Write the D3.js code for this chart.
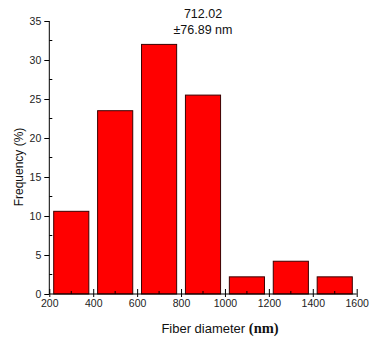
<!DOCTYPE html>
<html><head><meta charset="utf-8">
<script src="https://cdn.jsdelivr.net/npm/d3@7"></script>
<style>body{margin:0;background:#fff;} svg{display:block;}</style>
</head><body>
<script>
const binStart = [200, 400, 600, 800, 1000, 1200, 1400];
const frequency = [10.6, 23.5, 32.0, 25.5, 2.2, 4.2, 2.2];
const xTicks = [200, 400, 600, 800, 1000, 1200, 1400, 1600];
const xMinor = [300, 500, 700, 900, 1100, 1300, 1500];
const yTicks = [0, 5, 10, 15, 20, 25, 30, 35];
const yMinor = [2.5, 7.5, 12.5, 17.5, 22.5, 27.5, 32.5];
const annotation = ["712.02", "±76.89 nm"];

const W = 370, H = 340;
const svg = d3.select("body").append("svg").attr("width", W).attr("height", H);
const x = d3.scaleLinear().domain([200, 1600]).range([49.3, 356.7]);
const y = d3.scaleLinear().domain([0, 35]).range([294, 21]);
const font = "Liberation Sans, Arial, sans-serif";

// bars
svg.append("g").selectAll("rect").data(binStart).join("rect")
  .attr("x", (d) => x(d + 20))
  .attr("width", (d) => x(d + 180) - x(d + 20))
  .attr("y", (d, i) => y(frequency[i]))
  .attr("height", (d, i) => y(0) - y(frequency[i]))
  .attr("fill", "#ff0000").attr("stroke", "#3a0000").attr("stroke-width", 1);

// x axis
const xa = svg.append("g").attr("transform", `translate(0,${y(0)})`);
xa.call(d3.axisBottom(x).tickValues(xTicks).tickSize(3).tickPadding(3).tickFormat(d3.format("d")));
xa.selectAll(".tick line").clone().attr("y2", -5);
xa.selectAll(".tick text").attr("font-family", font).attr("font-size", 10.5).attr("fill", "#222");
xa.select(".domain").attr("d", `M${x(200)},0H${x(1600)}`);
xa.selectAll(".minor").data(xMinor).join("line").attr("class", "minor")
  .attr("x1", (d) => x(d)).attr("x2", (d) => x(d)).attr("y1", 0).attr("y2", -3).attr("stroke", "#000");

// y axis
const ya = svg.append("g").attr("transform", `translate(${x(200)},0)`);
ya.call(d3.axisLeft(y).tickValues(yTicks).tickSize(5).tickPadding(3));
ya.selectAll(".tick text").attr("font-family", font).attr("font-size", 10.5).attr("fill", "#222");
ya.select(".domain").attr("d", `M0,${y(0)}V${y(35)}`);
ya.selectAll(".minor").data(yMinor).join("line").attr("class", "minor")
  .attr("y1", (d) => y(d)).attr("y2", (d) => y(d)).attr("x1", 0).attr("x2", 3).attr("stroke", "#000");

// annotation
svg.append("g").selectAll("text").data(annotation).join("text")
  .attr("x", 203).attr("y", (d, i) => 18 + i * 16)
  .attr("text-anchor", "middle").attr("font-family", font).attr("font-size", 12.5)
  .attr("fill", "#111").text((d) => d);

// y label
svg.append("text").attr("transform", "translate(23,167) rotate(-90)")
  .attr("text-anchor", "middle").attr("font-family", font).attr("font-size", 12)
  .attr("fill", "#111").text("Frequency (%)");

// x label
const xl = svg.append("text").attr("x", 220).attr("y", 333)
  .attr("text-anchor", "middle").attr("font-family", font).attr("font-size", 13).attr("fill", "#111");
xl.append("tspan").text("Fiber diameter ");
xl.append("tspan").attr("font-family", "Liberation Serif, serif").attr("font-weight", "bold").attr("font-size", 14.5).text("(nm)");
</script>
</body></html>
